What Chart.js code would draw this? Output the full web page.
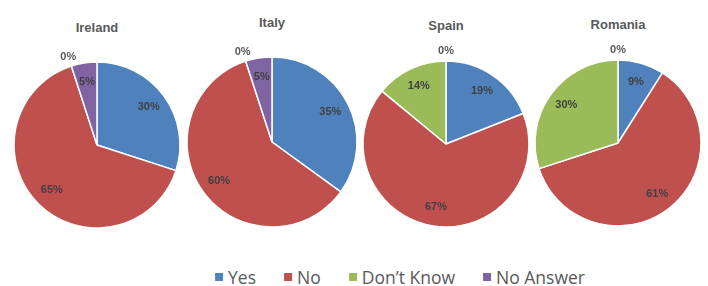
<!DOCTYPE html>
<html>
<head>
<meta charset="utf-8">
<script src="https://cdn.jsdelivr.net/npm/chart.js@4.4.1/dist/chart.umd.min.js"></script>
<style>
  body { margin: 0; background: #fff; }
  #wrap { position: relative; width: 708px; height: 286px; overflow: hidden; font-family: 'Liberation Sans', Arial, sans-serif; }
  .pie { position: absolute; }
  .title { position: absolute; transform: translate(-50%, -50%); font-weight: bold; font-size: 13px; color: #595959; white-space: nowrap; }
  #legend { position: absolute; top: 277px; left: 400px; transform: translate(-50%, -50%); display: flex; align-items: center; gap: 28px; white-space: nowrap; font-family: 'Open Sans', sans-serif; font-size: 17.5px; color: #595959; }
  #legend span.item { display: flex; align-items: center; }
  #legend i { display: inline-block; width: 8px; height: 8px; margin-right: 5px; }
</style>
</head>
<body>
<div id="wrap">
  <div id="legend"></div>
</div>
<script>
// answer categories and colours
const answers = ['Yes', 'No', 'Don\u2019t Know', 'No Answer'];
const sliceColors = ['#4F81BD', '#C0504D', '#9BBB59', '#8064A2'];

// countries and their shares (%)
const countries = ['Ireland', 'Italy', 'Spain', 'Romania'];
const ireland = [30, 65, 0, 5];
const italy = [35, 60, 0, 5];
const spain = [19, 67, 14, 0];
const romania = [9, 61, 30, 0];
const shares = [ireland, italy, spain, romania];

// where each pie sits on the page
const spots = [
  { cx: 97, cy: 145, r: 83, ty: 27 },
  { cx: 272, cy: 142, r: 85, ty: 22 },
  { cx: 446, cy: 144, r: 83, ty: 25 },
  { cx: 618, cy: 143, r: 83, ty: 24 }
];
const pad = 18;

// draws the % labels, zero slices go outside the pie
const sliceLabels = {
  id: 'sliceLabels',
  afterDatasetsDraw(chart) {
    const ctx = chart.ctx;
    const values = chart.data.datasets[0].data;
    ctx.save();
    ctx.font = 'bold 11px "Liberation Sans", Arial, sans-serif';
    ctx.textAlign = 'center';
    ctx.textBaseline = 'middle';
    chart.getDatasetMeta(0).data.forEach((arc, i) => {
      const { x, y, startAngle, endAngle, outerRadius } =
        arc.getProps(['x', 'y', 'startAngle', 'endAngle', 'outerRadius'], true);
      const mid = (startAngle + endAngle) / 2;
      const zero = values[i] === 0;
      const d = zero ? outerRadius + 10 : outerRadius * 0.77;
      ctx.fillStyle = zero ? '#595959' : '#404040';
      ctx.fillText(values[i] + '%', x + Math.cos(mid) * d, y + Math.sin(mid) * d);
    });
    ctx.restore();
  }
};

const wrap = document.getElementById('wrap');

countries.forEach((name, k) => {
  const s = spots[k];
  const size = 2 * (s.r + pad);

  const title = document.createElement('div');
  title.className = 'title';
  title.textContent = name;
  title.style.left = s.cx + 'px';
  title.style.top = s.ty + 'px';
  wrap.appendChild(title);

  const box = document.createElement('div');
  box.className = 'pie';
  box.style.left = (s.cx - s.r - pad) + 'px';
  box.style.top = (s.cy - s.r - pad) + 'px';
  const canvas = document.createElement('canvas');
  canvas.width = size;
  canvas.height = size;
  box.appendChild(canvas);
  wrap.appendChild(box);

  new Chart(canvas.getContext('2d'), {
    type: 'pie',
    data: {
      labels: answers,
      datasets: [{
        data: shares[k],
        backgroundColor: sliceColors,
        borderColor: '#ffffff',
        borderWidth: 1.5
      }]
    },
    options: {
      responsive: false,
      animation: false,
      radius: s.r,
      layout: { padding: pad },
      plugins: { legend: { display: false }, tooltip: { enabled: false } }
    },
    plugins: [sliceLabels]
  });
});

// legend under the pies
const legend = document.getElementById('legend');
answers.forEach((a, i) => {
  const item = document.createElement('span');
  item.className = 'item';
  item.innerHTML = `<i style="background:${sliceColors[i]}"></i>${a}`;
  legend.appendChild(item);
});
</script>
</body>
</html>
